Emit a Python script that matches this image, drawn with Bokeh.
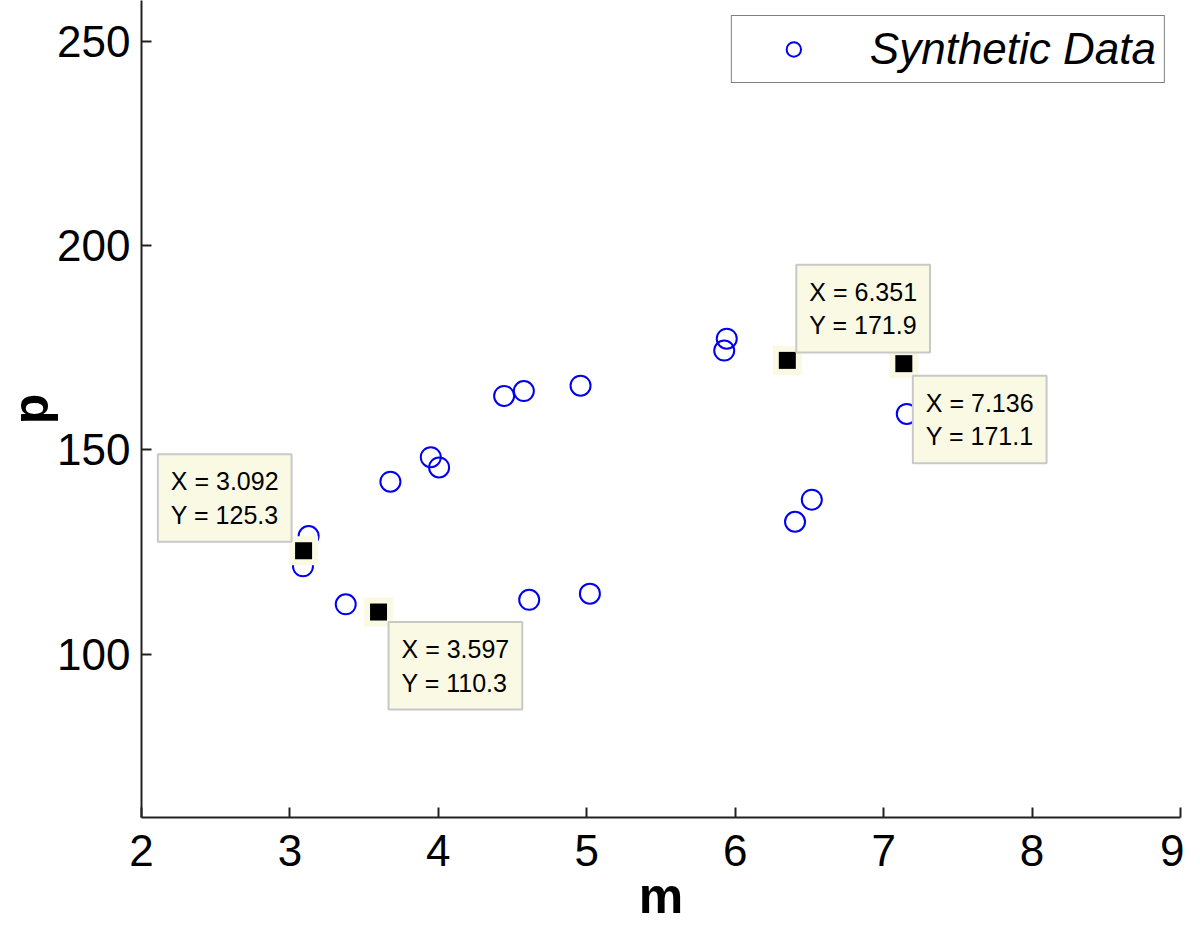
from bokeh.plotting import figure
from bokeh.models import Range1d, FixedTicker, Label, Legend, LegendItem
from bokeh.embed import file_html
from bokeh.resources import INLINE

# ---- data ----
m_data = [3.088, 3.092, 3.126, 3.376, 3.597, 3.677, 3.949, 4.005, 4.443, 4.576,
          4.612, 4.958, 5.021, 5.926, 5.943, 6.351, 6.403, 6.516, 7.136, 7.156]
p_data = [121.5, 125.3, 128.9, 112.2, 110.3, 142.2, 148.2, 145.7, 163.2, 164.4,
          113.3, 165.7, 114.8, 174.3, 177.2, 171.9, 132.4, 137.8, 171.1, 158.8]

tip_m = [3.092, 3.597, 6.351, 7.136]
tip_p = [125.3, 110.3, 171.9, 171.1]

x_ticks = [2, 3, 4, 5, 6, 7, 8, 9]
y_ticks = [100, 150, 200, 250]
series_name = "Synthetic Data"

# ---- styles ----
FONT = "Liberation Sans"
AX = "#222222"
TIP_BG = "#fafae4"
tip_align = ["right", "left", "left", "left"]
tip_base = ["bottom", "top", "bottom", "top"]
tip_dx = [-12, 10, 9, 9]
tip_dy = [9, -10, 8, -12]

p = figure(width=1184, height=926, output_backend="svg", toolbar_location=None,
           x_range=Range1d(2, 9), y_range=Range1d(60, 260),
           min_border_left=141, min_border_right=4, min_border_top=0,
           min_border_bottom=90)
p.outline_line_color = None
p.grid.visible = False
p.background_fill_color = "white"

for ax in (p.xaxis[0], p.yaxis[0]):
    ax.axis_line_color = AX
    ax.axis_line_width = 2
    ax.major_tick_line_color = AX
    ax.major_tick_line_width = 2
    ax.major_tick_in = 10
    ax.major_tick_out = 0
    ax.minor_tick_line_color = None
    ax.major_label_text_font = FONT
    ax.major_label_text_font_size = "44px"
    ax.major_label_text_color = "black"
    ax.axis_label_text_font = FONT
    ax.axis_label_text_font_size = "50px"
    ax.axis_label_text_font_style = "bold"
    ax.axis_label_text_color = "black"

p.xaxis.ticker = FixedTicker(ticks=x_ticks)
p.yaxis.ticker = FixedTicker(ticks=y_ticks)
p.xaxis.axis_label = "m"
p.yaxis.axis_label = "p"
p.xaxis.major_label_standoff = 17
p.yaxis.major_label_standoff = 11
p.xaxis.axis_label_standoff = -1
p.yaxis.axis_label_standoff = -5

r = p.scatter(m_data, p_data, marker="circle", size=20, fill_color=None,
              line_color="#0000ee", line_width=2)

# datatip markers
p.scatter(tip_m, tip_p, marker="square", size=29, fill_color=TIP_BG, line_color=None)
p.scatter(tip_m, tip_p, marker="square", size=17, fill_color="black", line_color=None)

for i in range(len(tip_m)):
    txt = f"X = {tip_m[i]:.3f}\nY = {tip_p[i]:.1f}"
    lab = Label(x=tip_m[i], y=tip_p[i], text=txt,
                x_offset=tip_dx[i], y_offset=tip_dy[i],
                text_align=tip_align[i], text_baseline=tip_base[i],
                text_font=FONT, text_font_size="25px", text_color="black",
                background_fill_color=TIP_BG, border_line_color="#c8c8c8",
                border_line_width=2, padding=13)
    p.add_layout(lab)

legend = Legend(items=[LegendItem(label=series_name, renderers=[r])],
                location="top_right", margin=15, padding=8,
                glyph_width=107, glyph_height=36, label_height=38,
                label_standoff=23, label_text_font=FONT,
                label_text_font_size="44px", label_text_font_style="italic",
                label_text_color="black",
                border_line_color="black", border_line_width=1.5,
                background_fill_color="white", background_fill_alpha=1)
p.add_layout(legend)

open("out.html", "w").write(file_html(p, INLINE))
